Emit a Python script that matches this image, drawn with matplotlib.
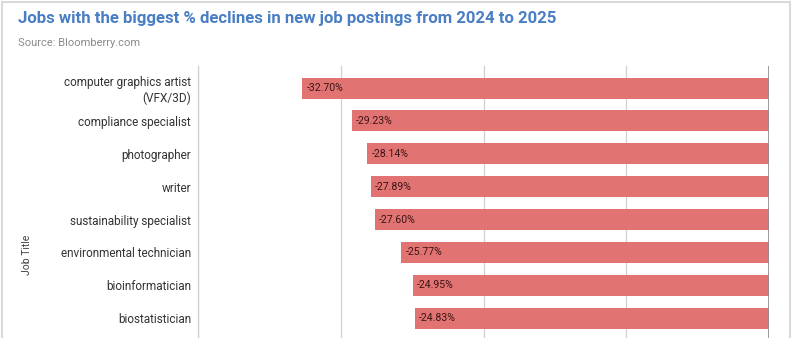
import numpy as np
import matplotlib.pyplot as plt
import matplotlib.patches as patches

plt.rcParams['font.family'] = ['Roboto', 'DejaVu Sans']

jobs = ["computer graphics artist\n(VFX/3D)", "compliance specialist", "photographer", "writer",
        "sustainability specialist", "environmental technician", "bioinformatician", "biostatistician"]
change = [-32.70, -29.23, -28.14, -27.89, -27.60, -25.77, -24.95, -24.83]
ticks = [-40, -30, -20, -10, 0]

W, H = 796, 338
fig = plt.figure(figsize=(W / 100, H / 100), dpi=100)

# screenshot frame
fig.patches.append(patches.Rectangle((2 / W, -0.1), (788 / W), (H - 2) / H + 0.1, transform=fig.transFigure,
                                     fill=False, edgecolor='#d9d9d9', linewidth=1.5))

fig.text(18 / W, 1 - 19 / H, "Jobs with the biggest % declines in new job postings from 2024 to 2025",
         fontsize=12.1, fontweight='bold', color='#4a7ec4', va='center', ha='left')
fig.text(18 / W, 1 - 43 / H, "Source: Bloomberry.com", fontsize=8, color='#8a8a8a', va='center', ha='left')

ax = fig.add_axes([198 / W, 0, (769 - 198) / W, (338 - 66) / H])
y = np.arange(len(jobs))
ax.barh(y, change, height=0.64, color='#e27373', zorder=2)
for yi, v in zip(y, change):
    ax.text(v + 0.3, yi, '{:.2f}%'.format(v), va='center', ha='left', fontsize=7.6, color='#3b1515', zorder=3)

ax.set_xlim(-40, 0)
ax.set_ylim(7.6, -0.67)
ax.set_xticks(ticks)
ax.set_yticks(y)
ax.set_yticklabels(jobs, fontsize=8.5, color='#333333')
ax.tick_params(axis='y', length=0, pad=5)
ax.tick_params(axis='x', length=0, labelbottom=False)
ax.grid(axis='x', color='#d0d0d0', linewidth=0.9, zorder=0)
ax.axvline(0, color='#8c8c8c', linewidth=1.2, zorder=3)
for s in ['top', 'right', 'bottom']:
    ax.spines[s].set_visible(False)
ax.spines['left'].set_color('#d0d0d0')
ax.spines['left'].set_linewidth(0.9)

fig.text(27 / W, 1 - 255 / H, "Job Title", rotation=90, fontsize=7.5, color='#444444', va='center', ha='center')

fig.savefig('out.png', dpi=100)
